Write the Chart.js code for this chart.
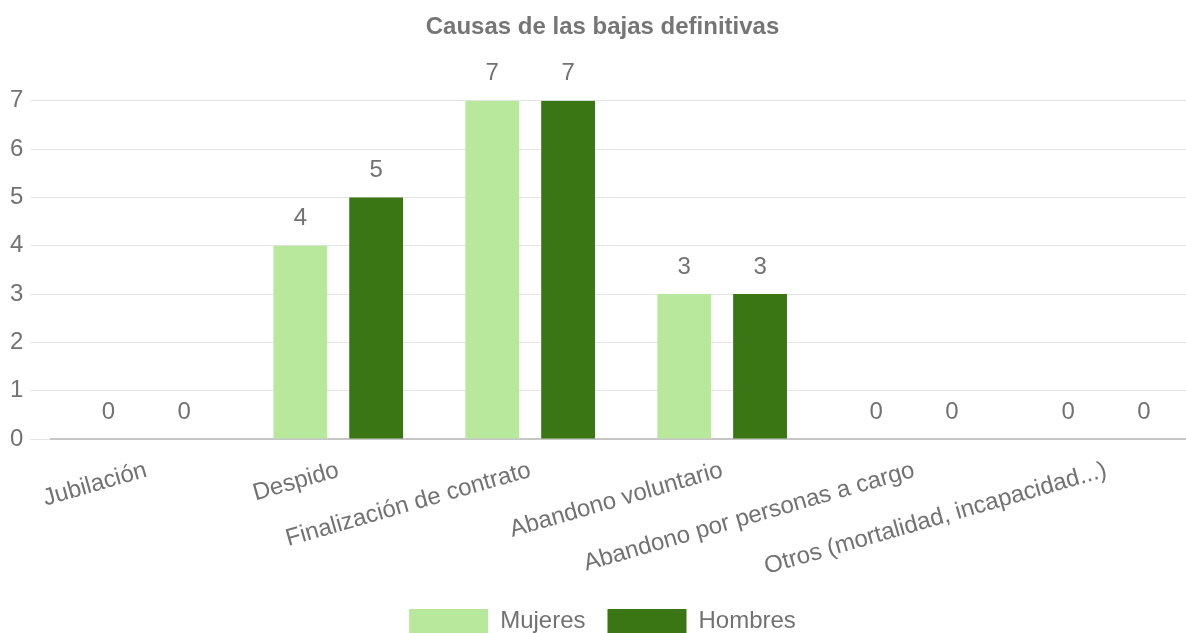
<!DOCTYPE html>
<html lang="es">
<head>
<meta charset="utf-8">
<title>Causas de las bajas definitivas</title>
<script src="https://cdn.jsdelivr.net/npm/chart.js@4/dist/chart.umd.min.js"></script>
<style>
  html, body { margin: 0; padding: 0; background: #fff; overflow: hidden; }
  #wrap { width: 1202px; height: 643px; }
</style>
</head>
<body>
<div id="wrap"><canvas id="bajasChart" width="1202" height="643"></canvas></div>
<script>
const causas = [
  'Jubilación',
  'Despido',
  'Finalización de contrato',
  'Abandono voluntario',
  'Abandono por personas a cargo',
  'Otros (mortalidad, incapacidad...)',
];
const mujeres = [0, 4, 7, 3, 0, 0];
const hombres = [0, 5, 7, 3, 0, 0];
const yTicks = [0, 1, 2, 3, 4, 5, 6, 7];

const FONT = `'Liberation Sans', Arial, sans-serif`;
const TEXT = '#727272';

// draws each bar's value above it
const valueLabels = {
  id: 'valueLabels',
  afterDatasetsDraw(chart) {
    const { ctx } = chart;
    ctx.save();
    ctx.font = `24px ${FONT}`;
    ctx.fillStyle = TEXT;
    ctx.textAlign = 'center';
    ctx.textBaseline = 'middle';
    chart.getSortedVisibleDatasetMetas().forEach((meta) => {
      const values = chart.data.datasets[meta.index].data;
      meta.data.forEach((bar, i) => {
        ctx.fillText(String(values[i]), bar.x, bar.y - 27);
      });
    });
    ctx.restore();
  },
};

const ctx = document.getElementById('bajasChart');

const bajasChart = new Chart(ctx, {
  type: 'bar',
  data: {
    labels: causas,
    datasets: [
      {
        label: 'Mujeres',
        data: mujeres,
        backgroundColor: '#b7e89b',
        borderWidth: 0,
      },
      {
        label: 'Hombres',
        data: hombres,
        backgroundColor: '#3a7614',
        borderWidth: 0,
      },
    ],
  },
  plugins: [valueLabels],
  options: {
    responsive: false,
    animation: false,
    layout: {
      padding: { left: 3, right: 0, top: 0, bottom: 0 },
    },
    datasets: {
      bar: {
        categoryPercentage: 0.79,
        barPercentage: 0.71,
      },
    },
    scales: {
      x: {
        grid: { display: false, drawTicks: false },
        border: { display: true, color: '#c6c6c6', width: 1.5 },
        ticks: {
          autoSkip: false,
          minRotation: 16,
          maxRotation: 16,
          padding: 17,
          color: TEXT,
          font: { size: 24, family: FONT },
        },
        afterFit(scale) {
          scale.height = 148;
        },
      },
      y: {
        min: 0,
        max: 7,
        afterBuildTicks(scale) {
          scale.ticks = yTicks.map((v) => ({ value: v }));
        },
        border: { display: false },
        grid: {
          color: (c) => (c.tick && c.tick.value === 0 ? '#c6c6c6' : '#e4e4e4'),
          tickColor: '#e4e4e4',
          tickLength: 20,
        },
        ticks: {
          padding: 7,
          color: TEXT,
          font: { size: 24, family: FONT },
        },
      },
    },
    plugins: {
      title: {
        display: true,
        text: 'Causas de las bajas definitivas',
        color: '#757575',
        font: { size: 24, weight: 'bold', family: FONT },
        padding: { top: 13, bottom: 59 },
      },
      legend: {
        position: 'bottom',
        labels: {
          boxWidth: 79,
          boxHeight: 24,
          padding: 22,
          color: TEXT,
          font: { size: 24, family: FONT },
        },
      },
      tooltip: { enabled: false },
    },
  },
});
</script>
</body>
</html>
